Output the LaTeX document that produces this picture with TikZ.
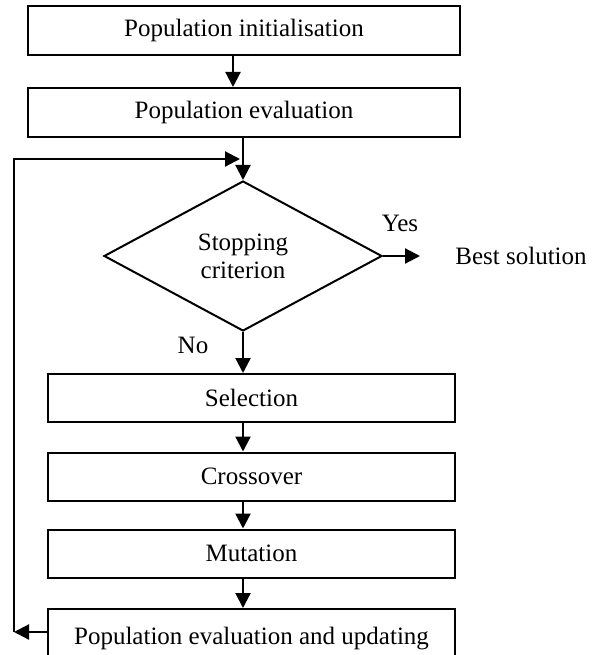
\documentclass[tikz,border=0pt]{standalone}
\usepackage{fontspec}
\setmainfont{Liberation Serif}
\usepackage{tikz}
\usetikzlibrary{shapes.geometric,arrows.meta}
\usetikzlibrary{calc}

\begin{document}
\begin{tikzpicture}[x=1pt,y=-1pt,font=\fontsize{25}{28}\selectfont]
  % Styles
  \tikzstyle{wide box}=[draw,line width=2pt,minimum width=432pt,minimum height=49pt,inner sep=0pt]
  \tikzstyle{small box}=[draw,line width=2pt,minimum width=407pt,minimum height=48pt,inner sep=0pt]
  \tikzstyle{test}=[draw,diamond,line width=2pt,minimum width=278pt,minimum height=150pt,inner sep=0pt,align=center]
  \tikzstyle{flow}=[line width=2.2pt,-{Triangle[length=15pt,width=15pt]}]

  \useasboundingbox (0,0) rectangle (599,655);
  \clip (0,0) rectangle (599,655);

  % The graphic
  \node[wide box] (init) at (244,30.5) {Population initialisation};
  \node[wide box] (eval) at (244,112.5) {Population evaluation};
  \node[test] (stop) at (243,256) {Stopping\\criterion};
  \node (best) at (521,256) {Best solution};
  \node (yes) at (400,223) {Yes};
  \node (no) at (193,345) {No};
  \node[small box] (sel) at (251.5,398) {Selection};
  \node[small box] (cross) at (251.5,476.5) {Crossover};
  \node[small box] (mut) at (251.5,553.5) {Mutation};
  \node[small box,minimum height=60pt] (upd) at (251.5,639) {Population evaluation and updating};

  \coordinate (yesend) at (420,256);
  \coordinate (back) at (14,632);
  \coordinate (loop) at (14,159);

  % Arrows
  \draw[flow] ([xshift=-11pt]init.south) -- ([xshift=-11pt]init.south |- eval.north);
  \draw[flow] (eval.south -| stop.north) -- (stop.north);
  \draw[flow] (stop.east) -- (yesend);
  \draw[flow] (stop.south) -- (stop.south |- sel.north);
  \draw[flow] (sel.south -| stop.south) -- (stop.south |- cross.north);
  \draw[flow] (cross.south -| stop.south) -- (stop.south |- mut.north);
  \draw[flow] (mut.south -| stop.south) -- (stop.south |- upd.north);
  \draw[flow] (upd.west |- back) -- (back);
  \draw[flow] (back) -- (loop) -- ([xshift=-3pt]loop -| stop.north);
\end{tikzpicture}
\end{document}
